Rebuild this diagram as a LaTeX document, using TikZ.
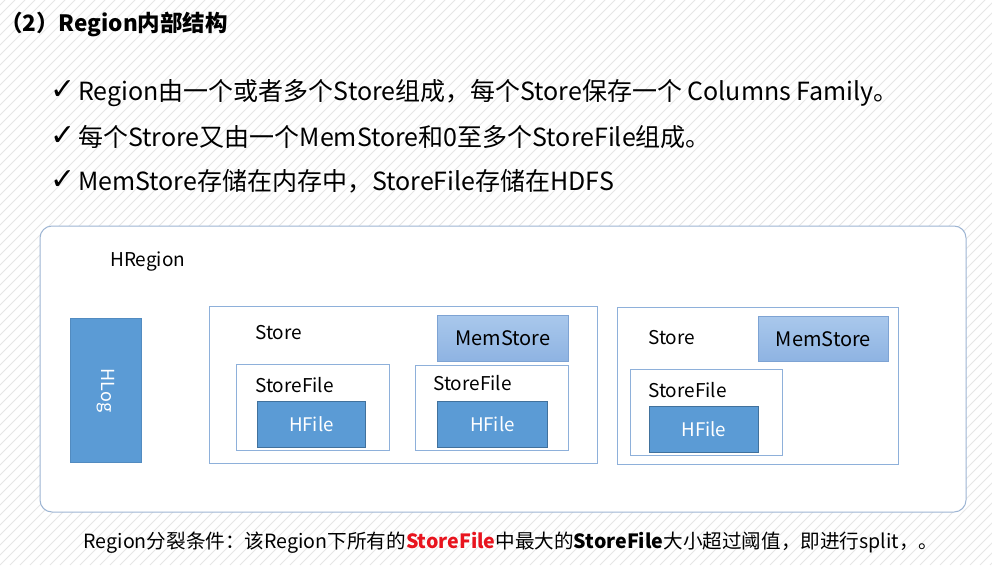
\documentclass[tikz,border=0pt]{standalone}
\usepackage{fontspec}
\setmainfont{Noto Sans CJK SC}
\newfontfamily\symfont{DejaVu Sans}
\definecolor{hatch}{HTML}{E6E6E6}
\definecolor{frame}{HTML}{9DB5D3}
\definecolor{boxline}{HTML}{8EB0DA}
\definecolor{darkblue}{HTML}{5B9BD5}
\definecolor{darkline}{HTML}{41719C}
\definecolor{memtop}{HTML}{A9C8EC}
\definecolor{membot}{HTML}{8EB3E2}
\definecolor{memline}{HTML}{7EA3D3}
\definecolor{redtxt}{HTML}{E8141E}
\tikzset{
  boxw/.style={draw=boxline, line width=0.8pt, fill=white, anchor=north west, inner sep=0pt},
  darkbox/.style={draw=darkline, line width=0.8pt, fill=darkblue, text=white, inner sep=0pt, anchor=north west, font=\fontsize{18.7}{18.7}\selectfont},
  membox/.style={draw=memline, line width=0.8pt, top color=memtop, bottom color=membot, inner sep=0pt, anchor=north west, font=\fontsize{20}{20}\selectfont},
  lbl/.style={anchor=west, inner sep=0pt, font=\fontsize{19}{19}\selectfont},
  bullet/.style={anchor=west, inner sep=0pt, font=\fontsize{25}{25}\selectfont},
}
\newcommand{\chk}{\makebox[28pt][l]{\raisebox{1pt}{\symfont\bfseries\fontsize{30}{30}\selectfont ✓}}}
\begin{document}
\begin{tikzpicture}[x=1pt,y=-1pt]
\useasboundingbox (0,0) rectangle (992,565);
\fill[white] (0,0) rectangle (992,565);
\begin{scope}
\clip (0,0) rectangle (992,565);
\foreach \i in {-600,-590,...,1000} \draw[hatch, line width=0.8pt] (\i,565) -- (\i+565,0);
\end{scope}
% title
\node[anchor=west, inner sep=0pt, font=\fontsize{22.5}{22.5}\selectfont\bfseries] (title) at (0,24) {（2）Region内部结构};
% bullets
\node[bullet] (b1) at (50,93) {\chk Region由一个或者多个Store组成，每个Store保存一个 Columns Family。};
\node[bullet] (b2) at (50,137) {\chk 每个Strore又由一个MemStore和0至多个StoreFile组成。};
\node[bullet] (b3) at (50,181) {\chk MemStore存储在内存中，StoreFile存储在HDFS};
% outer region
\draw[frame, line width=1pt, fill=white, rounded corners=12pt] (40,226) rectangle (966,512);
\node[lbl] (hregion) at (110,262) {HRegion};
% HLog
\node[draw=darkblue!90!black, fill=darkblue, line width=0.6pt, minimum width=71pt, minimum height=144pt, anchor=north west, inner sep=0pt] (hlog) at (70,318) {};
\node[rotate=-90, text=white, font=\fontsize{18}{18}\selectfont] (hlogt) at (hlog.center) {HLog};
% Store 1
\node[boxw, minimum width=388pt, minimum height=157pt] (store1) at (209,306) {};
\node[lbl] (store1t) at (255,333) {Store};
\node[membox, minimum width=131pt, minimum height=46pt] (mem1) at (437,315) {MemStore};
\node[boxw, minimum width=153pt, minimum height=86pt] (sf1) at (236,364) {};
\node[lbl] (sf1t) at (255,385) {StoreFile};
\node[darkbox, minimum width=108pt, minimum height=46pt] (hf1) at (257,401) {HFile};
\node[boxw, minimum width=153pt, minimum height=85pt] (sf2) at (415,365) {};
\node[lbl] (sf2t) at (433,383) {StoreFile};
\node[darkbox, minimum width=110pt, minimum height=46pt] (hf2) at (437,401) {HFile};
% Store 2
\node[boxw, minimum width=281pt, minimum height=157pt] (store2) at (617,307) {};
\node[lbl] (store2t) at (648,338) {Store};
\node[membox, minimum width=130pt, minimum height=45pt] (mem2) at (758,316) {MemStore};
\node[boxw, minimum width=152pt, minimum height=86pt] (sf3) at (630,369) {};
\node[lbl] (sf3t) at (648,390) {StoreFile};
\node[darkbox, minimum width=109pt, minimum height=46pt] (hf3) at (649,406) {HFile};
% bottom note
\node[inner sep=0pt, font=\fontsize{19.6}{19.6}\selectfont] (note) at (511,543) {Region分裂条件：该Region下所有的\textbf{\color{redtxt}StoreFile}中最大的\textbf{StoreFile}大小超过阈值，即进行split，。};
\end{tikzpicture}
\end{document}
